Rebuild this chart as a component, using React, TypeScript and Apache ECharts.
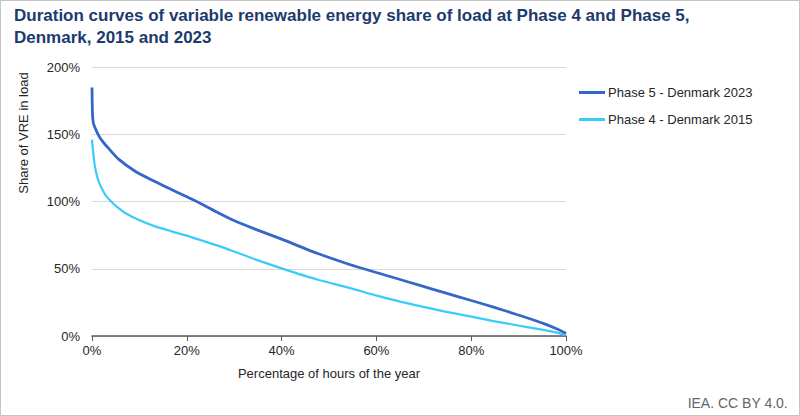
import React, { useEffect, useRef } from "react";
import * as echarts from "echarts";

const titleText = "Duration curves of variable renewable energy share of load at Phase 4 and Phase 5,\nDenmark, 2015 and 2023";
const seriesNames = ["Phase 5 - Denmark 2023", "Phase 4 - Denmark 2015"];

const phase5X = [0, 0.1, 0.3, 0.7, 1.2, 1.75, 2.5, 3.5, 5.6, 9.1, 12.6, 16.1, 20, 23.2, 26.7, 30.2, 34.4, 40, 47.5, 54.5, 60, 65, 69.2, 74, 80, 84.7, 89.6, 95.2, 98, 100];
const phase5Y = [184.7, 165, 158, 154.4, 150.5, 147, 143.5, 139.5, 131.5, 122.5, 116, 110, 103.5, 98, 91.5, 85.5, 79.5, 72, 61.5, 53, 47.2, 42, 37.6, 32.6, 26.4, 21.5, 16, 9.4, 5.4, 2];

const phase4X = [0, 0.2, 0.6, 1.05, 1.5, 2.1, 3, 4.2, 5.6, 7, 9.8, 13.3, 16.8, 20, 23.2, 26.7, 30.2, 34.4, 40, 47.5, 54.5, 60, 65, 69.2, 74, 80, 84.7, 89.6, 95.2, 98, 100];
const phase4Y = [146, 138, 126.5, 119, 114, 109.5, 104, 99.5, 95, 91.5, 86.4, 81.5, 77.8, 74.6, 71, 67, 62.5, 57, 50.3, 42, 35.6, 30, 25.6, 22.2, 18.5, 14.4, 11.1, 8, 4.5, 2.5, 0.8];

const xAxisName = "Percentage of hours of the year";
const yAxisName = "Share of VRE in load";
const sourceText = "IEA. CC BY 4.0.";

export default function App() {
  const ref = useRef<HTMLDivElement>(null);
  useEffect(() => {
    document.body.style.margin = "0";
    if (!ref.current) return;
    const chart = echarts.init(ref.current, null, { renderer: "svg" });
    const font = "Liberation Sans, Arial, sans-serif";
    chart.setOption({
      animation: false,
      backgroundColor: "#ffffff",
      title: {
        text: titleText,
        left: 8,
        top: -2,
        textStyle: {
          fontFamily: "Liberation Sans Narrow, Arial Narrow, sans-serif",
          fontWeight: "bold",
          fontSize: 17,
          lineHeight: 22,
          color: "#1c3a6e",
        },
      },
      legend: {
        orient: "vertical",
        left: 578,
        top: 85,
        padding: 0,
        itemGap: 14,
        itemWidth: 26,
        itemHeight: 3,
        icon: "rect",
        data: seriesNames,
        textStyle: { fontFamily: font, fontSize: 13, color: "#262626", padding: [0, 0, 0, -2] },
      },
      grid: { left: 91, right: 233, top: 66, bottom: 79 },
      xAxis: {
        type: "value",
        min: 0,
        max: 100,
        interval: 20,
        name: xAxisName,
        nameLocation: "middle",
        nameGap: 31,
        nameTextStyle: { fontFamily: font, fontSize: 13, color: "#262626" },
        axisLine: { lineStyle: { color: "#595959", width: 1.5 } },
        axisTick: { show: true, length: 5, lineStyle: { color: "#595959" } },
        axisLabel: { formatter: "{value}%", fontFamily: font, fontSize: 13, color: "#262626", margin: 8 },
        splitLine: { show: false },
      },
      yAxis: {
        type: "value",
        min: 0,
        max: 200,
        interval: 50,
        axisLine: { show: false },
        axisTick: { show: false },
        axisLabel: { formatter: "{value}%", fontFamily: font, fontSize: 13, color: "#262626", margin: 12 },
        splitLine: { lineStyle: { color: "#d9d9d9", width: 1 } },
      },
      series: [
        {
          name: seriesNames[0],
          type: "line",
          data: phase5X.map((x, i) => [x, phase5Y[i]]),
          symbol: "none",
          smooth: 0.2,
          lineStyle: { color: "#3567c9", width: 2.8 },
          itemStyle: { color: "#3567c9" },
          z: 3,
        },
        {
          name: seriesNames[1],
          type: "line",
          data: phase4X.map((x, i) => [x, phase4Y[i]]),
          symbol: "none",
          smooth: 0.2,
          lineStyle: { color: "#38ccfa", width: 2.2 },
          itemStyle: { color: "#38ccfa" },
          z: 2,
        },
      ],
      graphic: [
        {
          type: "text",
          x: 22,
          y: 132,
          rotation: Math.PI / 2,
          style: {
            text: yAxisName,
            fontFamily: font,
            fontSize: 13,
            fill: "#262626",
            textAlign: "center",
            textVerticalAlign: "middle",
          },
        },
        {
          type: "text",
          right: 11,
          top: 395,
          style: { text: sourceText, fontFamily: font, fontSize: 14, fill: "#666666" },
        },
      ],
    });
    return () => chart.dispose();
  }, []);
  return (
    <div
      ref={ref}
      style={{ width: 800, height: 416, boxSizing: "border-box", border: "1px solid #c4c4c4" }}
    />
  );
}
